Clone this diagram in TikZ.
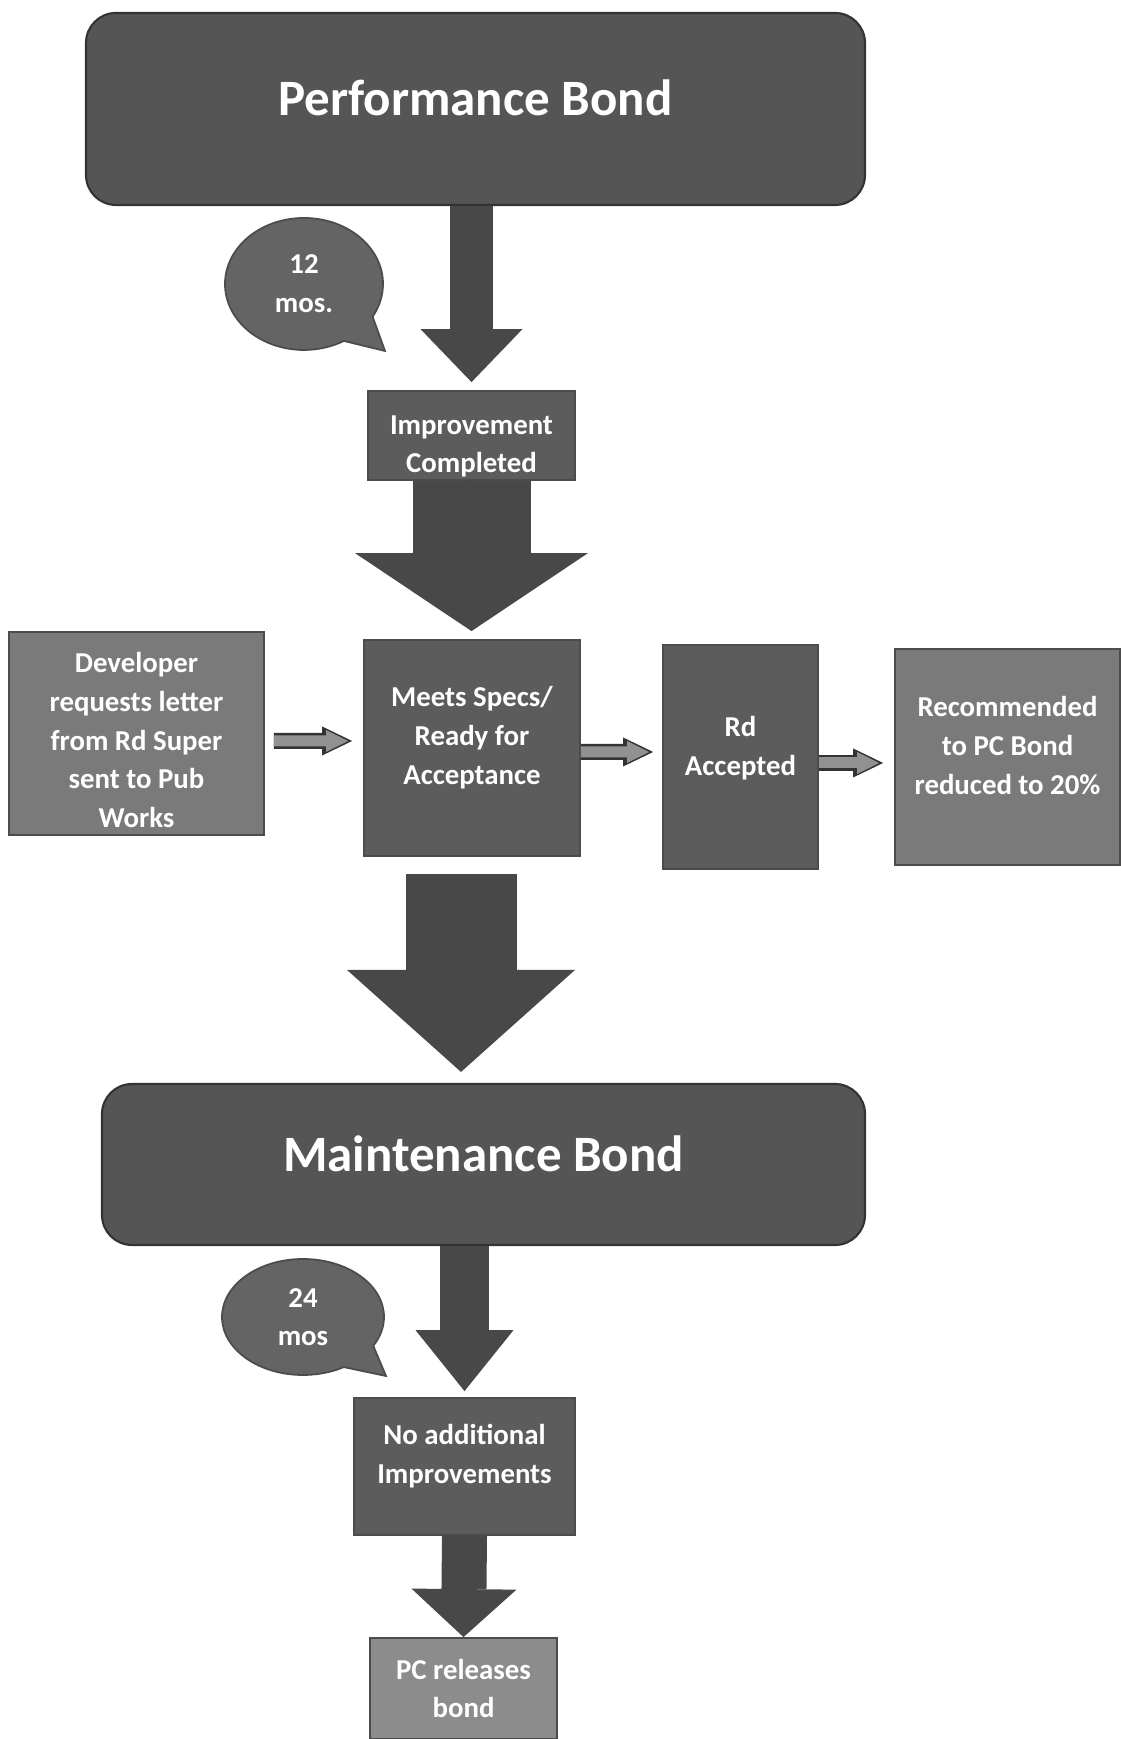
\documentclass[tikz,border=0pt]{standalone}
\usepackage{fontspec}
\setmainfont{Carlito}
\usetikzlibrary{arrows.meta,shapes.callouts}
\tikzstyle{every node}=[text=white]
\definecolor{bondgray}{RGB}{85,85,85}
\definecolor{stepdark}{RGB}{92,92,92}
\definecolor{steplight}{RGB}{122,122,122}
\definecolor{steppale}{RGB}{140,140,140}
\definecolor{bubblegray}{RGB}{100,100,100}
\definecolor{arrowgray}{RGB}{72,72,72}
\definecolor{sidegray}{RGB}{145,145,145}
\tikzstyle{titlebox}=[draw=black!80, line width=0.6pt, fill=bondgray, rounded corners=0.3cm,
    text depth=0.22cm, font=\fontsize{14.5}{17}\selectfont\bfseries]
\tikzstyle{stepbox}=[draw=black!70, line width=0.5pt, fill=stepdark, align=center, inner sep=1pt,
    font=\fontsize{8.2}{11}\selectfont\bfseries]
\tikzstyle{timebubble}=[ellipse callout, draw=black!70, line width=0.5pt, fill=bubblegray, align=center,
    inner sep=0pt, callout pointer arc=30, font=\fontsize{8.2}{11}\selectfont\bfseries]
\tikzstyle{bigarrow}=[draw=arrowgray, fill=arrowgray]
\tikzstyle{sidearrow}=[draw=sidegray, line width=0.11cm, shorten >=0.04cm,
    -{Triangle[width=0.22cm,length=0.22cm,line width=0pt]},
    preaction={draw=black!80, line width=0.16cm, shorten >=0pt,
        -{Triangle[width=0.29cm,length=0.3cm,line width=0pt]}}]

\begin{document}
\begin{tikzpicture}
    \useasboundingbox (0,0) rectangle (11.21,17.39);

    % bonds
    \node[titlebox, minimum width=7.79cm, minimum height=1.92cm] (pbond) at (4.755,16.30) {Performance Bond};
    \node[titlebox, minimum width=7.63cm, minimum height=1.61cm] (maint) at (4.835,5.745) {Maintenance Bond};

    % time bubbles
    \node[timebubble, minimum width=1.58cm, minimum height=1.32cm,
        callout absolute pointer={(3.85,13.88)}] (twelve) at (3.04,14.55) {12\\mos.};
    \node[timebubble, minimum width=1.62cm, minimum height=1.16cm,
        callout absolute pointer={(3.86,3.63)}] (twentyfour) at (3.03,4.22) {24\\mos};

    % steps
    \node[stepbox, inner ysep=0pt, text height=0.79cm, minimum width=2.07cm, minimum height=0.89cm] (impr)
        at (4.715,13.035) {Improvement\\Completed};
    \node[stepbox, fill=steplight, text height=1.88cm, minimum width=2.55cm, minimum height=2.03cm] (dev)
        at (1.365,10.055) {Developer\\requests letter\\from Rd Super\\sent to Pub\\Works};
    \node[stepbox, text depth=0.25cm, minimum width=2.16cm, minimum height=2.16cm] (meets) at (4.72,9.91)
        {Meets Specs/\\Ready for\\Acceptance};
    \node[stepbox, text depth=0.22cm, minimum width=1.55cm, minimum height=2.24cm] (rdacc) at (7.405,9.82)
        {Rd\\Accepted};
    \node[stepbox, fill=steplight, text depth=0.23cm, minimum width=2.25cm, minimum height=2.16cm] (recom)
        at (10.075,9.82) {Recommended\\to PC Bond\\reduced to 20\%};
    \node[stepbox, text depth=0.25cm, minimum width=2.21cm, minimum height=1.37cm] (noadd) at (4.645,2.725)
        {No additional\\Improvements};
    \node[stepbox, fill=steppale, minimum width=1.87cm, minimum height=1.01cm] (pcrel) at (4.635,0.505)
        {PC releases\\bond};

    % big arrows down
    \draw[bigarrow, line width=0.43cm, -{Triangle[width=1.02cm,length=0.53cm,line width=0pt]}]
        (pbond.south -| impr.north) -- ([yshift=0.08cm]impr.north);
    \draw[bigarrow, line width=1.18cm, -{Triangle[width=2.33cm,length=0.78cm,line width=0pt]}]
        (impr.south) -- ([yshift=0.08cm]impr.south |- meets.north);
    \draw[bigarrow, line width=1.11cm, -{Triangle[width=2.28cm,length=1.02cm,line width=0pt]}]
        ([xshift=-0.11cm,yshift=-0.17cm]meets.south) -- ([xshift=-0.11cm,yshift=0.11cm]meets.south |- maint.north);
    \draw[bigarrow, line width=0.49cm, -{Triangle[width=0.98cm,length=0.61cm,line width=0pt]}]
        (maint.south -| noadd.north) -- ([yshift=0.06cm]noadd.north);
    \draw[bigarrow, line width=0.45cm, -{Triangle[width=1.05cm,length=0.48cm,line width=0pt]}]
        (noadd.south) -- (pcrel.north);

    % side arrows
    \draw[sidearrow] ([xshift=0.09cm,yshift=-0.075cm]dev.east) -- ([xshift=-0.11cm,yshift=0.07cm]meets.west);
    \draw[sidearrow] ([yshift=-0.04cm]meets.east) -- ([xshift=-0.09cm,yshift=0.05cm]rdacc.west);
    \draw[sidearrow] ([yshift=-0.06cm]rdacc.east) -- ([xshift=-0.11cm,yshift=-0.06cm]recom.west);
\end{tikzpicture}
\end{document}
